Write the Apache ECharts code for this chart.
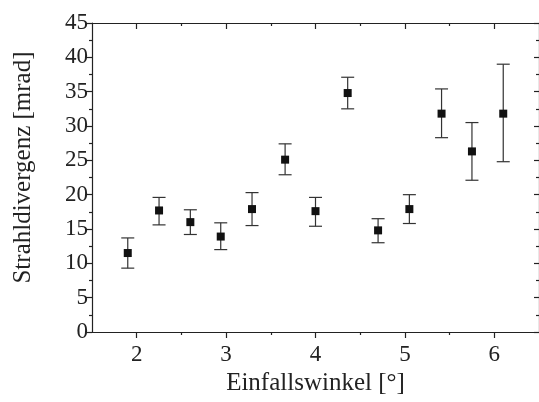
<!DOCTYPE html>
<html>
<head>
<meta charset="utf-8">
<script src="https://cdn.jsdelivr.net/npm/echarts@6/dist/echarts.min.js"></script>
<style>html,body{margin:0;padding:0;background:#fff;}#c{width:539px;height:402px;}</style>
</head>
<body>
<div id="c"></div>
<script>
const angles = [1.9, 2.25, 2.6, 2.94, 3.29, 3.66, 4.0, 4.36, 4.7, 5.05, 5.41, 5.75, 6.1];
const divergence = [11.5, 17.7, 16.0, 13.9, 17.9, 25.1, 17.6, 34.8, 14.8, 17.9, 31.8, 26.3, 31.8];
const errLow = [9.3, 15.6, 14.2, 12.0, 15.5, 22.9, 15.4, 32.5, 13.0, 15.8, 28.3, 22.1, 24.8];
const errHigh = [13.7, 19.6, 17.8, 15.9, 20.3, 27.4, 19.6, 37.1, 16.5, 20.0, 35.4, 30.5, 39.0];
const xMajorTicks = [2, 3, 4, 5, 6];
const xMinorTicks = [2.5, 3.5, 4.5, 5.5];

const FONT = "'Liberation Serif', 'Times New Roman', serif";
const chart = echarts.init(document.getElementById('c'));
const lineStyle = { color: '#222', width: 1.2 };
const baseX = { type: 'value', min: 1.5, max: 6.5, splitLine: { show: false }, axisLine: { show: true, onZero: false, lineStyle } };

chart.setOption({
  animation: false,
  backgroundColor: '#fff',
  grid: { left: 92, right: 0, top: 23, bottom: 70 },
  xAxis: [
    Object.assign({}, baseX, {
      position: 'bottom',
      name: 'Einfallswinkel [°]', nameLocation: 'middle', nameGap: 33,
      nameTextStyle: { fontFamily: FONT, fontSize: 25, color: '#222' },
      axisTick: { show: true, customValues: xMajorTicks, length: 6, lineStyle },
      axisLabel: { show: true, customValues: xMajorTicks, margin: 11, fontFamily: FONT, fontSize: 23, color: '#222' }
    }),
    Object.assign({}, baseX, {
      position: 'bottom',
      axisTick: { show: true, customValues: xMinorTicks, length: 3, lineStyle },
      axisLabel: { show: false }
    }),
    Object.assign({}, baseX, {
      position: 'top',
      axisTick: { show: true, inside: true, customValues: xMajorTicks, length: 6, lineStyle },
      axisLabel: { show: false }
    }),
    Object.assign({}, baseX, {
      position: 'top',
      axisTick: { show: true, inside: true, customValues: xMinorTicks, length: 3, lineStyle },
      axisLabel: { show: false }
    })
  ],
  yAxis: [
    {
      type: 'value', position: 'left', min: 0, max: 45, interval: 5,
      splitLine: { show: false },
      axisLine: { show: true, lineStyle },
      axisTick: { show: true, length: 6, lineStyle },
      minorTick: { show: true, splitNumber: 2, length: 3, lineStyle },
      axisLabel: { margin: 4, fontFamily: FONT, fontSize: 23, color: '#222' },
      name: 'Strahldivergenz [mrad]', nameLocation: 'middle', nameGap: 56,
      nameTextStyle: { fontFamily: FONT, fontSize: 25, color: '#222', padding: [0, 0, 0, 20] }
    },
    {
      type: 'value', position: 'right', min: 0, max: 45, interval: 5,
      splitLine: { show: false },
      axisLine: { show: true, lineStyle },
      axisTick: { show: true, inside: true, length: 5, lineStyle },
      minorTick: { show: true, splitNumber: 2, length: 3, lineStyle },
      axisLabel: { show: false }
    }
  ],
  series: [
    {
      type: 'custom',
      xAxisIndex: 0, yAxisIndex: 0,
      data: angles.map((a, i) => [a, errLow[i], errHigh[i]]),
      encode: { x: 0, y: [1, 2] },
      renderItem: function (params, api) {
        const x = api.value(0);
        const lo = api.coord([x, api.value(1)]);
        const hi = api.coord([x, api.value(2)]);
        const hw = 6.5;
        const st = { stroke: '#333', lineWidth: 1.2 };
        return {
          type: 'group',
          children: [
            { type: 'line', shape: { x1: lo[0], y1: lo[1], x2: hi[0], y2: hi[1] }, style: st },
            { type: 'line', shape: { x1: lo[0] - hw, y1: lo[1], x2: lo[0] + hw, y2: lo[1] }, style: st },
            { type: 'line', shape: { x1: hi[0] - hw, y1: hi[1], x2: hi[0] + hw, y2: hi[1] }, style: st }
          ]
        };
      },
      z: 2
    },
    {
      type: 'scatter',
      xAxisIndex: 0, yAxisIndex: 0,
      symbol: 'rect', symbolSize: 8,
      itemStyle: { color: '#111', opacity: 1 },
      data: angles.map((a, i) => [a, divergence[i]]),
      z: 3
    }
  ]
});
</script>
</body>
</html>
